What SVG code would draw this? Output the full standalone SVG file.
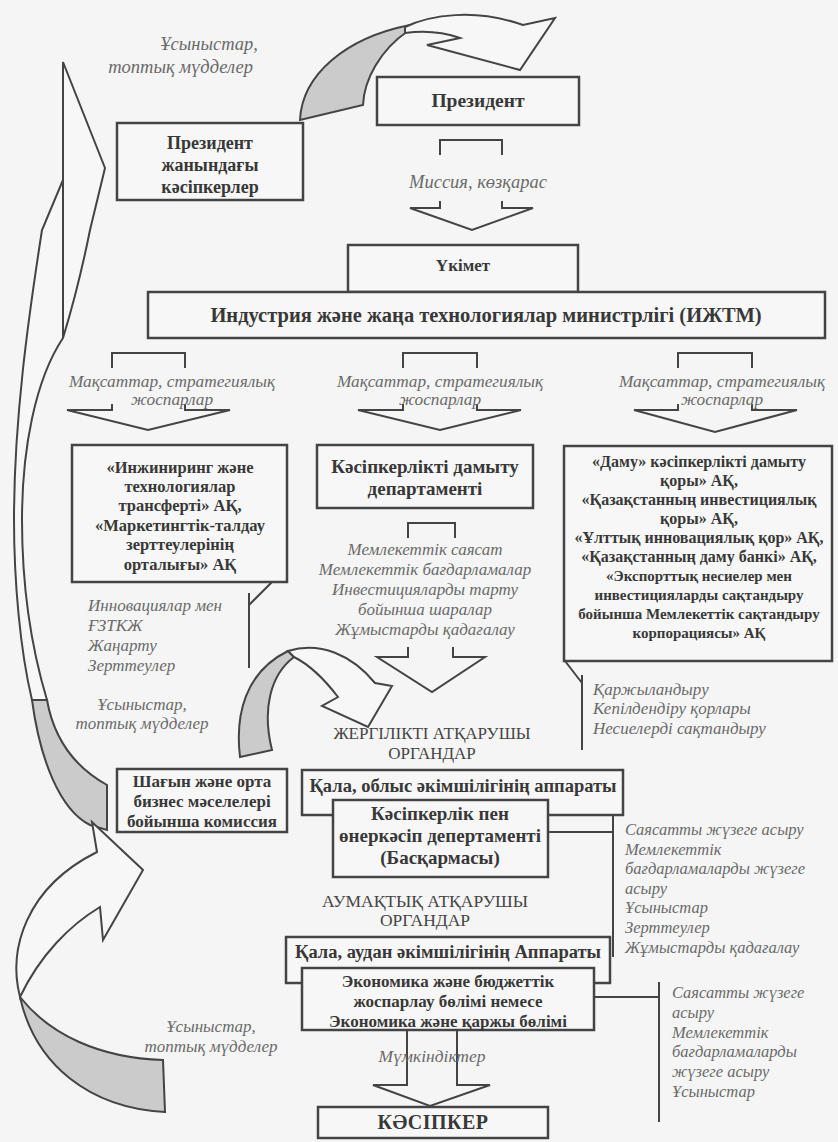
<svg xmlns="http://www.w3.org/2000/svg" width="838" height="1142" viewBox="0 0 838 1142">
<style>
.bx{fill:#f7f7f7;stroke:#444;stroke-width:2.5}
.ln{fill:none;stroke:#444;stroke-width:2}
.ar{fill:#f7f7f7;stroke:#444;stroke-width:2;stroke-linejoin:miter}
.gr{fill:#cbcbcb;stroke:#444;stroke-width:2}
.b{font-family:"Liberation Serif",serif;font-weight:bold;fill:#383838;text-anchor:middle}
.i{font-family:"Liberation Serif",serif;font-style:italic;fill:#6a6a6a}
.r{font-family:"Liberation Serif",serif;fill:#454545;text-anchor:middle}
.c{text-anchor:middle}
</style>
<rect width="838" height="1142" fill="#f5f5f5"/>

<g id="connectors">
  <path class="gr" d="M300,120 C302,75 345,38 410,25 L408,31 C380,50 364,80 363,105 Z"/>
  <path class="ar" d="M405,27 C430,15 475,8 523,25 L555,18 L520,70 L427,45 L460,38 C440,31 420,31 405,33 Z"/>
  <path class="ln" d="M440,155 V140 H502 V155"/>
  <path class="ln" d="M440,201 V208 H410 L472,230 L533,208 H502 V201"/>
  <path class="ln" d="M112,368 V353 H185 V368"/>
  <path class="ln" d="M112,404 V410 H67 L148,430 L230,410 H185 V404"/>
  <path class="ln" d="M403,368 V353 H477 V368"/>
  <path class="ln" d="M403,404 V410 H358 L440,430 L521,410 H477 V404"/>
  <path class="ln" d="M678,368 V353 H752 V368"/>
  <path class="ln" d="M678,404 V410 H634 L715,432 L797,410 H752 V404"/>
  <path class="ln" d="M284,570 L249,605 M249,593 V668"/>
  <path class="ln" d="M408,538 V523 H455 V538"/>
  <path class="ln" d="M408,647 V657 H377 L432,692 L485,657 H453 V647"/>
  <path class="ln" d="M565,661 L582,683 M582,675 V750"/>
  <path class="gr" d="M240,757 C235,715 245,672 288,651 L294,657 C270,675 262,710 272,750 Z"/>
  <path class="ar" d="M288,651 C320,641 352,655 375,683 L392,686 L368,727 L322,706 L338,697 C325,680 310,665 294,657 Z"/>
  <path class="ln" d="M548,832 H613 M613,815 V957"/>
  <path class="ln" d="M594,997 H659 M659,982 V1122"/>
  <path class="ln" d="M407,1030 V1085 H373 L430,1106 L490,1085 H457 V1030"/>
  <path class="ar" d="M63,62 L105,168 L90,230 C80,280 70,315 63,338 C35,380 22,450 22,520 C22,600 35,660 47,700 L32,700 C20,650 14,580 14,520 C14,420 28,320 42,230 L63,180 Z"/>
  <path class="ln" d="M63,180 V338"/>
  <path class="gr" d="M32,700 C40,760 60,810 90,825 L107,830 L107,785 C80,770 55,745 47,700 Z"/>
  <path class="gr" d="M20,997 C50,1035 100,1058 163,1060 L165,1112 C90,1108 35,1065 20,997 Z"/>
  <path class="ar" d="M20,997 C8,950 25,888 97,852 L92,822 L143,870 L103,940 L100,907 C70,925 40,955 20,997 Z"/>
</g>

<g id="n-pres-ent">
  <rect class="bx" x="117" y="123" width="186" height="77"/>
  <text class="b" font-size="18"><tspan x="210" y="149">Президент</tspan><tspan x="210" y="171">жанындағы</tspan><tspan x="210" y="193">кәсіпкерлер</tspan></text>
</g>
<g id="n-president">
  <rect class="bx" x="377" y="77" width="202" height="48"/>
  <text class="b" font-size="19.5" x="478" y="107">Президент</text>
</g>
<g id="n-gov">
  <rect class="bx" x="348" y="245" width="230" height="47"/>
  <text class="b" font-size="17" x="463" y="271">Үкімет</text>
</g>
<g id="n-ministry">
  <rect class="bx" x="148" y="292" width="677" height="46"/>
  <text class="b" font-size="20.5" x="486" y="322">Индустрия және жаңа технологиялар министрлігі (ИЖТМ)</text>
</g>
<g id="n-eng">
  <rect class="bx" x="72" y="445" width="215" height="137"/>
  <text class="b" font-size="16.5"><tspan x="180" y="473">«Инжиниринг және</tspan><tspan x="180" y="492">технологиялар</tspan><tspan x="180" y="511">трансферті» АҚ,</tspan><tspan x="180" y="531">«Маркетингтік-талдау</tspan><tspan x="180" y="550">зерттеулерінің</tspan><tspan x="180" y="570">орталығы» АҚ</tspan></text>
</g>
<g id="n-dept">
  <rect class="bx" x="317" y="445" width="216" height="63"/>
  <text class="b" font-size="19"><tspan x="425" y="473">Кәсіпкерлікті дамыту</tspan><tspan x="425" y="495">департаменті</tspan></text>
</g>
<g id="n-funds">
  <rect class="bx" x="564" y="446" width="268" height="215"/>
  <text class="b" font-size="16"><tspan x="699" y="467">«Даму»  кәсіпкерлікті дамыту</tspan><tspan x="699" y="486">қоры» АҚ,</tspan><tspan x="699" y="505">«Қазақстанның инвестициялық</tspan><tspan x="699" y="524">қоры» АҚ,</tspan><tspan x="699" y="543">«Ұлттық инновациялық қор» АҚ,</tspan><tspan x="699" y="562">«Қазақстанның даму банкі» АҚ,</tspan></text>
  <text class="b" font-size="15"><tspan x="699" y="581">«Экспорттық несиелер мен</tspan><tspan x="699" y="600">инвестицияларды сақтандыру</tspan><tspan x="699" y="619">бойынша Мемлекеттік сақтандыру</tspan><tspan x="699" y="638">корпорациясы» АҚ</tspan></text>
</g>
<g id="n-sme">
  <rect class="bx" x="117" y="769" width="170" height="63"/>
  <text class="b" font-size="17"><tspan x="202" y="787">Шағын және орта</tspan><tspan x="202" y="807">бизнес мәселелері</tspan><tspan x="202" y="827">бойынша комиссия</tspan></text>
</g>
<g id="n-oblast">
  <rect class="bx" x="302" y="770" width="321" height="45"/>
  <text class="b" font-size="18.5" x="463" y="792">Қала, облыс әкімшілігінің аппараты</text>
</g>
<g id="n-entdept">
  <rect class="bx" x="333" y="800" width="215" height="77"/>
  <text class="b" font-size="19"><tspan x="440" y="820">Кәсіпкерлік пен</tspan><tspan x="440" y="842">өнеркәсіп депертаменті</tspan><tspan x="440" y="864">(Басқармасы)</tspan></text>
</g>
<g id="n-district">
  <rect class="bx" x="286" y="937" width="324" height="46"/>
  <text class="b" font-size="18.5" x="448" y="958">Қала, аудан әкімшілігінің Аппараты</text>
</g>
<g id="n-econ">
  <rect class="bx" x="302" y="968" width="292" height="62"/>
  <text class="b" font-size="17"><tspan x="448" y="987">Экономика және бюджеттік</tspan><tspan x="448" y="1007">жоспарлау бөлімі немесе</tspan><tspan x="448" y="1027">Экономика және қаржы бөлімі</tspan></text>
</g>
<g id="n-ent">
  <rect class="bx" x="318" y="1107" width="230" height="31"/>
  <text class="b" font-size="20" letter-spacing="0.5" x="433" y="1129">КӘСІПКЕР</text>
</g>

<g id="labels">
  <text class="i" font-size="18.5" text-anchor="end"><tspan x="258" y="50">Ұсыныстар,</tspan><tspan x="253" y="73">топтық мүдделер</tspan></text>
  <text class="i c" font-size="18.5" x="478" y="188">Миссия, көзқарас</text>
  <text class="i c" font-size="17.3"><tspan x="172" y="387">Мақсаттар, стратегиялық</tspan><tspan x="172" y="405">жоспарлар</tspan></text>
  <text class="i c" font-size="17.3"><tspan x="440" y="387">Мақсаттар, стратегиялық</tspan><tspan x="440" y="405">жоспарлар</tspan></text>
  <text class="i c" font-size="17.3"><tspan x="722" y="387">Мақсаттар, стратегиялық</tspan><tspan x="722" y="405">жоспарлар</tspan></text>
  <text class="i" font-size="17"><tspan x="88" y="611">Инновациялар мен</tspan><tspan x="88" y="631">ҒЗТКЖ</tspan><tspan x="88" y="651">Жаңарту</tspan><tspan x="88" y="671">Зерттеулер</tspan></text>
  <text class="i c" font-size="17"><tspan x="142" y="710">Ұсыныстар,</tspan><tspan x="142" y="729">топтық мүдделер</tspan></text>
  <text class="i c" font-size="17"><tspan x="425" y="555">Мемлекеттік саясат</tspan><tspan x="425" y="575">Мемлекеттік бағдарламалар</tspan><tspan x="425" y="595">Инвестицияларды тарту</tspan><tspan x="425" y="615">бойынша шаралар</tspan><tspan x="425" y="635">Жұмыстарды қадағалау</tspan></text>
  <text class="i" font-size="17"><tspan x="593" y="695">Қаржыландыру</tspan><tspan x="593" y="714">Кепілдендіру қорлары</tspan><tspan x="593" y="734">Несиелерді сақтандыру</tspan></text>
  <text class="r" font-size="17"><tspan x="432" y="739">ЖЕРГІЛІКТІ АТҚАРУШЫ</tspan><tspan x="432" y="759">ОРГАНДАР</tspan></text>
  <text class="i" font-size="16.5"><tspan x="625" y="835">Саясатты жүзеге асыру</tspan><tspan x="625" y="855">Мемлекеттік</tspan><tspan x="625" y="874">бағдарламаларды жүзеге</tspan><tspan x="625" y="894">асыру</tspan><tspan x="625" y="913">Ұсыныстар</tspan><tspan x="625" y="933">Зерттеулер</tspan><tspan x="625" y="953">Жұмыстарды қадағалау</tspan></text>
  <text class="r" font-size="17.5"><tspan x="425" y="907">АУМАҚТЫҚ  АТҚАРУШЫ</tspan><tspan x="425" y="926">ОРГАНДАР</tspan></text>
  <text class="i" font-size="16.5"><tspan x="672" y="998">Саясатты жүзеге</tspan><tspan x="672" y="1018">асыру</tspan><tspan x="672" y="1038">Мемлекеттік</tspan><tspan x="672" y="1057">бағдарламаларды</tspan><tspan x="672" y="1077">жүзеге асыру</tspan><tspan x="672" y="1097">Ұсыныстар</tspan></text>
  <text class="i c" font-size="17"><tspan x="211" y="1032">Ұсыныстар,</tspan><tspan x="211" y="1052">топтық мүдделер</tspan></text>
  <text class="i c" font-size="17.5" x="432" y="1062">Мүмкіндіктер</text>
</g>
</svg>
